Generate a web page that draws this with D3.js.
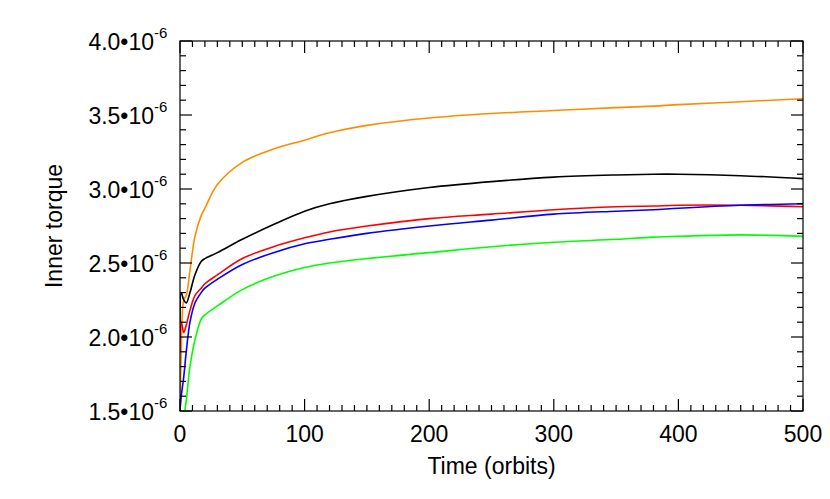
<!DOCTYPE html><html><head><script src="https://cdn.jsdelivr.net/npm/d3@7"></script>
<style>body{margin:0;background:#fff}text{font-family:"Liberation Sans",Arial,sans-serif;fill:#000}</style></head><body>
<svg id="c" width="830" height="499"></svg>
<script>
const times=[0,1,3,5,8,12,17,20,30,50,75,100,120,150,200,250,300,350,380,400,450,500];
const orange=[1.4,1.9,2.25,2.28,2.45,2.68,2.82,2.87,3.03,3.18,3.27,3.33,3.38,3.43,3.48,3.51,3.53,3.55,3.56,3.57,3.59,3.61];
const black=[2.1,2.3,2.25,2.23,2.3,2.42,2.51,2.53,2.57,2.66,2.76,2.85,2.90,2.95,3.01,3.05,3.08,3.095,3.10,3.10,3.09,3.07];
const red=[1.9,2.1,2.03,2.08,2.18,2.28,2.33,2.36,2.42,2.53,2.61,2.67,2.71,2.75,2.80,2.83,2.86,2.88,2.885,2.89,2.89,2.88];
const blue=[1.5,1.6,1.73,1.9,2.1,2.23,2.30,2.33,2.39,2.49,2.57,2.63,2.66,2.70,2.75,2.79,2.83,2.85,2.86,2.87,2.89,2.90];
const green=[1.2,1.3,1.45,1.57,1.8,1.98,2.12,2.15,2.21,2.32,2.41,2.47,2.50,2.53,2.57,2.61,2.64,2.66,2.675,2.68,2.69,2.68];
const series=[[orange,"#ff8c00"],[black,"#000"],[red,"#ff0000"],[blue,"#0000ff"],[green,"#00ff00"]];
const xTicks=[0,100,200,300,400,500];
const yTicks=[1.5,2.0,2.5,3.0,3.5,4.0];
const svg=d3.select("#c");
const L=180,R=803,T=41,B=411;
const x=d3.scaleLinear().domain([0,500]).range([L,R]);
const y=d3.scaleLinear().domain([1.5,4.0]).range([B,T]);
svg.append("clipPath").attr("id","cp").append("rect").attr("x",L).attr("y",T).attr("width",R-L).attr("height",B-T);
const line=d3.line().x((d,i)=>x(times[i])).y(d=>y(d)).curve(d3.curveCatmullRom.alpha(0.5));
series.forEach(([s,c])=>svg.append("path").attr("d",line(s)).attr("fill","none").attr("stroke",c).attr("stroke-width",1.6).attr("clip-path","url(#cp)"));
const g=svg.append("g").attr("stroke","#000").attr("stroke-width",1.2);
g.append("rect").attr("x",L).attr("y",T).attr("width",R-L).attr("height",B-T).attr("fill","none");
d3.range(0,501,10).forEach(t=>{const l=t%100==0?12:6;
 g.append("line").attr("x1",x(t)).attr("x2",x(t)).attr("y1",B).attr("y2",B-l);
 g.append("line").attr("x1",x(t)).attr("x2",x(t)).attr("y1",T).attr("y2",T+l);});
d3.range(15,41,1).forEach(v=>{v=v/10;const l=Math.abs(v*2-Math.round(v*2))<1e-6?12:6;
 g.append("line").attr("x1",L).attr("x2",L+l).attr("y1",y(v)).attr("y2",y(v));
 g.append("line").attr("x1",R).attr("x2",R-l).attr("y1",y(v)).attr("y2",y(v));});
xTicks.forEach(t=>svg.append("text").attr("x",x(t)).attr("y",B+31).attr("text-anchor","middle").attr("font-size",23).text(t));
yTicks.forEach(v=>{svg.append("text").attr("x",L-26).attr("y",y(v)+9).attr("text-anchor","end").attr("font-size",23).text(v.toFixed(1)+"•10");
 svg.append("text").attr("x",L-26).attr("y",y(v)-3).attr("font-size",15).text("-6");});
svg.append("text").attr("x",(L+R)/2).attr("y",474).attr("text-anchor","middle").attr("font-size",23).text("Time (orbits)");
svg.append("text").attr("transform","translate(62,"+((T+B)/2)+") rotate(-90)").attr("text-anchor","middle").attr("font-size",23).text("Inner torque");
</script></body></html>
